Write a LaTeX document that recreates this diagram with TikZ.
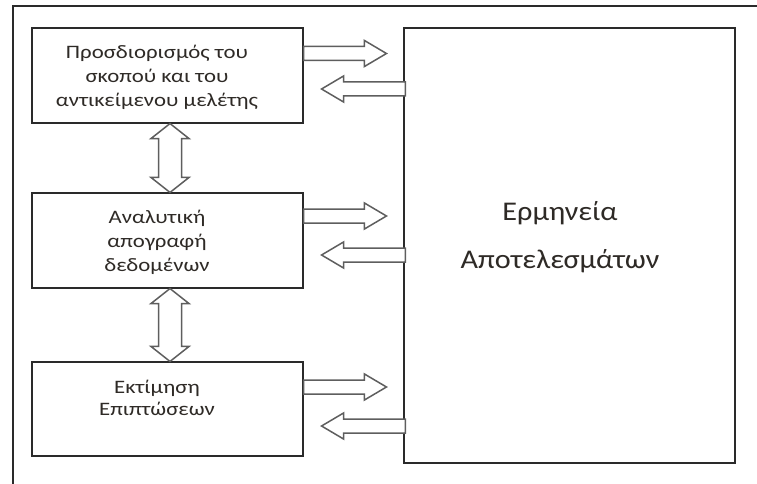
\documentclass[tikz,border=0pt]{standalone}
\usepackage{fontspec}
\setmainfont{Carlito}
\usetikzlibrary{calc}
\definecolor{frame}{HTML}{2A2A2A}
\definecolor{arrowline}{HTML}{5E5E5E}
\definecolor{txt}{HTML}{2E2A26}
\tikzset{
  box/.style={draw=frame, line width=1.1pt, minimum width=271pt, minimum height=95pt, inner sep=0pt},
  boxtext/.style={text=txt, align=center, inner sep=0pt, xscale=1.2, font=\fontsize{19}{24}\selectfont},
  bigtext/.style={text=txt, inner sep=0pt, xscale=1.12, font=\fontsize{27}{30}\selectfont},
  blockarrow/.style={draw=arrowline, fill=white, line width=1.5pt, line join=miter},
}
% horizontal block arrow from #1 to tip #2 (points right or left by sign #3)
\newcommand\hblock[3]{%
  \draw[blockarrow] ($(#1)+(0,7)$) -- ($(#2)+(-22*#3,7)$) -- ($(#2)+(-22*#3,13)$) -- (#2)
    -- ($(#2)+(-22*#3,-13)$) -- ($(#2)+(-22*#3,-7)$) -- ($(#1)+(0,-7)$) -- cycle;}
% vertical double-headed block arrow between tips #1 (top) and #2 (bottom)
\newcommand\vblock[2]{%
  \draw[blockarrow] (#1) -- ($(#1)+(19,15)$) -- ($(#1)+(11.5,15)$) -- ($(#2)+(11.5,-15)$)
    -- ($(#2)+(19,-15)$) -- (#2) -- ($(#2)+(-19,-15)$) -- ($(#2)+(-11.5,-15)$)
    -- ($(#1)+(-11.5,15)$) -- ($(#1)+(-19,15)$) -- cycle;}
\begin{document}
\begin{tikzpicture}[x=1pt, y=-1pt]
\useasboundingbox[fill=white] (0,0) rectangle (757,484);

% open outer frame
\coordinate (fa) at (757,6);
\coordinate (fb) at (13,6);
\coordinate (fc) at (13,484);
\draw[frame, line width=1.1pt] (fa) -- (fb) -- (fc);

% left column of steps
\node[box] (b1) at (167.5,75.5) {};
\node[box] (b2) at (167.5,240.5) {};
\node[box, minimum height=94pt] (b3) at (167.5,409) {};
\node[box, minimum width=331pt, minimum height=435pt] (big) at (569.5,245.5) {};

\node[boxtext] (t1) at (157,77) {Προσδιορισμός του\\σκοπού και του\\αντικείμενου μελέτης};
\node[boxtext] (t2) at (157,242) {Αναλυτική\\απογραφή\\δεδομένων};
\node[boxtext, font=\fontsize{19}{22}\selectfont] (t3) at (157,398) {Εκτίμηση\\Επιπτώσεων};
\node[bigtext] (t4) at (560,213) {Ερμηνεία};
\node[bigtext] (t5) at (560,261) {Αποτελεσμάτων};

% arrows towards the interpretation block
\coordinate (r1) at (b1.east |- 0,53.5);
\coordinate (r1t) at ($(big.west |- 0,53.5)+(-17,0)$);
\coordinate (r2) at (b2.east |- 0,216);
\coordinate (r2t) at ($(big.west |- 0,216)+(-17,0)$);
\coordinate (r3) at (b3.east |- 0,387);
\coordinate (r3t) at ($(big.west |- 0,387)+(-17,0)$);
\hblock{r1}{r1t}{1}
\hblock{r2}{r2t}{1}
\hblock{r3}{r3t}{1}

% feedback arrows back to each step
\coordinate (l1) at ($(big.west |- 0,89)+(2,0)$);
\coordinate (l1t) at ($(b1.east |- 0,89)+(18,0)$);
\coordinate (l2) at ($(big.west |- 0,255)+(2,0)$);
\coordinate (l2t) at ($(b2.east |- 0,255)+(18,0)$);
\coordinate (l3) at ($(big.west |- 0,426)+(2,0)$);
\coordinate (l3t) at ($(b3.east |- 0,426)+(18,0)$);
\hblock{l1}{l1t}{-1}
\hblock{l2}{l2t}{-1}
\hblock{l3}{l3t}{-1}

% links between consecutive steps
\coordinate (v1a) at ($(b1.south)+(2.5,0)$);
\coordinate (v1b) at ($(b2.north)+(2.5,0)$);
\coordinate (v2a) at ($(b2.south)+(2.5,0)$);
\coordinate (v2b) at ($(b3.north)+(2.5,0)$);
\vblock{v1a}{v1b}
\vblock{v2a}{v2b}
\end{tikzpicture}
\end{document}
